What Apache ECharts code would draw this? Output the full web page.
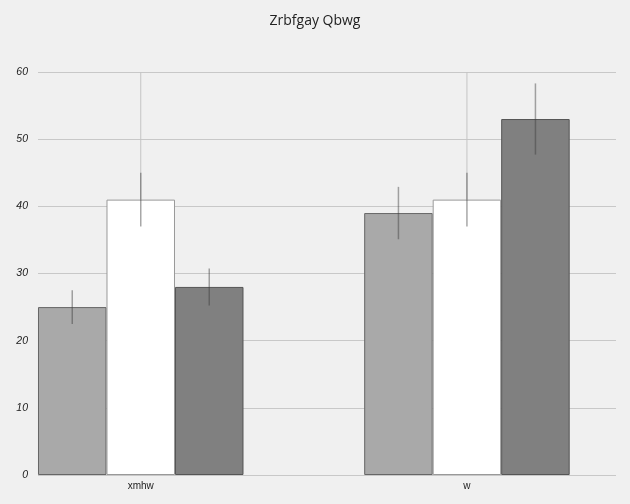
<!DOCTYPE html>
<html>
<head>
<meta charset="utf-8">
<script src="https://cdn.jsdelivr.net/npm/echarts@6/dist/echarts.min.js"></script>
<style>
  html, body { margin: 0; padding: 0; background: #f0f0f0; }
  #main { width: 630px; height: 504px; }
</style>
</head>
<body>
<div id="main"></div>
<script>
// data
var categories = ['xmhw', 'w'];
var yTicks = [0, 10, 20, 30, 40, 50, 60];
var valuesA = [25, 39];
var errA = [2.5, 3.9];
var valuesB = [41, 41];
var errB = [4, 4];
var valuesC = [28, 53];
var errC = [2.75, 5.3];
var faintTop = [60, 60]; // light whisker above the white bars

var barW = 68.5;

var chart = echarts.init(document.getElementById('main'));

function barData(vals) {
  return vals.map(function (v, i) { return [i, v]; });
}

// [category index, low, high, slot]
var errData = [];
[[valuesA, errA], [valuesB, errB], [valuesC, errC]].forEach(function (pair, k) {
  pair[0].forEach(function (v, i) {
    errData.push([i, v - pair[1][i], v + pair[1][i], k]);
  });
});
var faintData = valuesB.map(function (v, i) { return [i, v, faintTop[i], 1]; });

function whisker(color, width) {
  return function (params, api) {
    var base = api.coord([api.value(0), 0]);
    var x = base[0] + (api.value(3) - 1) * barW;
    var y1 = api.coord([api.value(0), api.value(1)])[1];
    var y2 = api.coord([api.value(0), api.value(2)])[1];
    return {
      type: 'line',
      shape: { x1: x, y1: y1, x2: x, y2: y2 },
      style: { stroke: color, lineWidth: width }
    };
  };
}

var option = {
  backgroundColor: '#f0f0f0',
  animation: false,
  title: {
    text: 'Zrbfgay Qbwg',
    left: 'center',
    top: 9,
    textStyle: { fontSize: 14, fontWeight: 'normal', color: '#222', fontFamily: 'Open Sans' }
  },
  grid: { left: 38, right: 14, top: 72, bottom: 29 },
  xAxis: {
    type: 'value',
    min: -0.315,
    max: 1.457,
    axisLine: { show: false },
    axisTick: { show: false },
    splitLine: { show: false },
    axisLabel: {
      customValues: categories.map(function (c, i) { return i; }),
      fontSize: 10,
      color: '#222',
      margin: 6,
      formatter: function (v) {
        return categories[Math.round(v)];
      }
    }
  },
  yAxis: {
    type: 'value',
    min: yTicks[0],
    max: yTicks[yTicks.length - 1],
    interval: 10,
    axisLine: { show: false },
    axisTick: { show: true, length: 4, lineStyle: { color: '#c8c8c8' } },
    splitLine: { lineStyle: { color: '#c8c8c8', width: 1 } },
    axisLabel: { fontSize: 10.5, color: '#222', fontStyle: 'italic', margin: 10 }
  },
  series: [
    {
      type: 'bar', data: barData(valuesA), barWidth: barW, barGap: '0%',
      itemStyle: { color: '#a9a9a9', borderColor: '#666', borderWidth: 1 }
    },
    {
      type: 'bar', data: barData(valuesB), barWidth: barW, barGap: '0%',
      itemStyle: { color: '#ffffff', borderColor: '#999', borderWidth: 1 }
    },
    {
      type: 'bar', data: barData(valuesC), barWidth: barW, barGap: '0%',
      itemStyle: { color: '#808080', borderColor: '#555', borderWidth: 1 }
    },
    {
      type: 'custom', data: faintData, renderItem: whisker('#c4c4c4', 1), z: 5
    },
    {
      type: 'custom', data: errData, renderItem: whisker('rgba(60,60,60,0.45)', 1.5), z: 6
    }
  ]
};

chart.setOption(option);
</script>
</body>
</html>
